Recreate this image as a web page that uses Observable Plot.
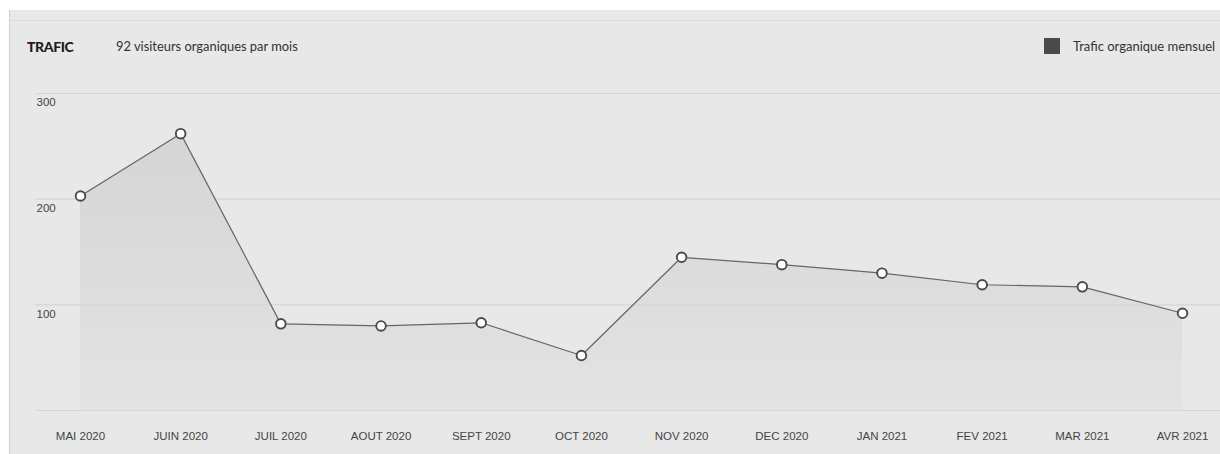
<!DOCTYPE html>
<html><head><meta charset="utf-8">
<script src="https://cdn.jsdelivr.net/npm/d3@7"></script>
<script src="https://cdn.jsdelivr.net/npm/@observablehq/plot@0.6"></script>
<style>
html,body{margin:0;padding:0;background:#fff;width:1220px;height:454px;overflow:hidden;}
#frame{position:absolute;left:9px;top:10px;width:1211px;height:444px;background:#e8e8e8;border-left:1px solid #d0d0d0;box-sizing:border-box;}
#sep{position:absolute;left:0;top:10px;width:100%;height:1px;background:#dcdcdc;}
#header{position:absolute;left:0;top:0;width:100%;height:73px;font-family:Lato,"Open Sans",sans-serif;color:#2a2a2a;}
#title{position:absolute;left:17px;top:28px;font-weight:900;font-size:14px;letter-spacing:-0.4px;color:#1e1e1e;}
#subtitle{position:absolute;left:106px;top:28px;font-size:12.9px;color:#333;}
#legend{position:absolute;left:1034px;top:28px;font-size:13px;color:#333;display:flex;align-items:center;}
#legend .sw{width:16px;height:16px;background:#4a4a4a;margin-right:13px;}
#chart{position:absolute;left:0;top:73px;}
</style></head>
<body>
<div id="frame">
  <div id="sep"></div>
  <div id="header">
    <div id="title">TRAFIC</div>
    <div id="subtitle">92 visiteurs organiques par mois</div>
    <div id="legend"><div class="sw"></div><span>Trafic organique mensuel</span></div>
  </div>
  <div id="chart"></div>
</div>
<script>
const months = ["MAI 2020","JUIN 2020","JUIL 2020","AOUT 2020","SEPT 2020","OCT 2020","NOV 2020","DEC 2020","JAN 2021","FEV 2021","MAR 2021","AVR 2021"];
const visitors = [203, 262, 82, 80, 83, 52, 145, 138, 130, 119, 117, 92];
const yTicks = [100, 200, 300];

const data = months.map((m, i) => ({i, month: m, value: visitors[i]}));

const defs = () => {
  const ns = "http://www.w3.org/2000/svg";
  const d = document.createElementNS(ns, "defs");
  const g = document.createElementNS(ns, "linearGradient");
  g.setAttribute("id", "areaGrad");
  g.setAttribute("x1", "0"); g.setAttribute("y1", "0");
  g.setAttribute("x2", "0"); g.setAttribute("y2", "1");
  [["0%", "#d5d5d5"], ["100%", "#e3e3e3"]].forEach(([o, c]) => {
    const s = document.createElementNS(ns, "stop");
    s.setAttribute("offset", o); s.setAttribute("stop-color", c);
    g.appendChild(s);
  });
  d.appendChild(g);
  return d;
};

const axisFont = "'Liberation Sans', Arial, sans-serif";

const chart = Plot.plot({
  width: 1210,
  height: 371,
  marginTop: 10,
  marginBottom: 44,
  marginLeft: 25,
  marginRight: 0,
  style: {background: "transparent", fontFamily: axisFont, fontSize: "11.5px", color: "#444"},
  x: {type: "linear", domain: [-0.449, 11.379], axis: null},
  y: {domain: [0, 300], axis: null},
  marks: [
    defs,
    Plot.areaY(data, {x: "i", y: "value", fill: "url(#areaGrad)"}),
    Plot.ruleY([0, ...yTicks], {stroke: "#d6d6d6", strokeWidth: 1.2}),
    Plot.text(yTicks, {x: -0.449, y: d => d, text: d => String(d), textAnchor: "start", dx: 1, dy: 9, fill: "#444", fontSize: 11.5, fontFamily: axisFont}),
    Plot.line(data, {x: "i", y: "value", stroke: "#666", strokeWidth: 1.2}),
    Plot.dot(data, {x: "i", y: "value", r: 4.8, fill: "#fff", stroke: "#4a4a4a", strokeWidth: 1.9}),
    Plot.text(data, {x: "i", y: 0, text: "month", dy: 26, fill: "#444", fontSize: 11.5, fontFamily: axisFont})
  ]
});
document.getElementById("chart").appendChild(chart);
</script>
</body></html>
